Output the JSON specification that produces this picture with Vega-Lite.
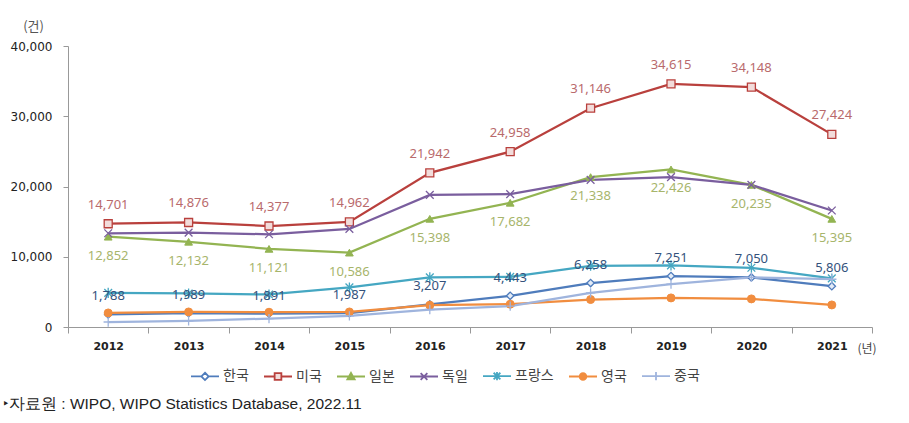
{
  "$schema": "https://vega.github.io/schema/vega-lite/v6.json",
  "width": 804,
  "height": 281,
  "autosize": "none",
  "padding": {"left": 68, "top": 46, "right": 37, "bottom": 96},
  "background": "white",
  "config": {"view": {"stroke": null}},
  "title": {
    "text": "‣자료원 : WIPO, WIPO Statistics Database, 2022.11",
    "orient": "bottom",
    "anchor": "start",
    "frame": "group",
    "dx": -65,
    "offset": 13,
    "font": "Liberation Sans Narrow, Liberation Sans",
    "fontSize": 15.5,
    "fontWeight": "normal",
    "color": "#222"
  },
  "data": {"values": [
    {"year": "2012", "country": "한국", "value": 1788},
    {"year": "2013", "country": "한국", "value": 1989},
    {"year": "2014", "country": "한국", "value": 1891},
    {"year": "2015", "country": "한국", "value": 1987},
    {"year": "2016", "country": "한국", "value": 3207},
    {"year": "2017", "country": "한국", "value": 4443},
    {"year": "2018", "country": "한국", "value": 6258},
    {"year": "2019", "country": "한국", "value": 7251},
    {"year": "2020", "country": "한국", "value": 7050},
    {"year": "2021", "country": "한국", "value": 5806},
    {"year": "2012", "country": "미국", "value": 14701},
    {"year": "2013", "country": "미국", "value": 14876},
    {"year": "2014", "country": "미국", "value": 14377},
    {"year": "2015", "country": "미국", "value": 14962},
    {"year": "2016", "country": "미국", "value": 21942},
    {"year": "2017", "country": "미국", "value": 24958},
    {"year": "2018", "country": "미국", "value": 31146},
    {"year": "2019", "country": "미국", "value": 34615},
    {"year": "2020", "country": "미국", "value": 34148},
    {"year": "2021", "country": "미국", "value": 27424},
    {"year": "2012", "country": "일본", "value": 12852},
    {"year": "2013", "country": "일본", "value": 12132},
    {"year": "2014", "country": "일본", "value": 11121},
    {"year": "2015", "country": "일본", "value": 10586},
    {"year": "2016", "country": "일본", "value": 15398},
    {"year": "2017", "country": "일본", "value": 17682},
    {"year": "2018", "country": "일본", "value": 21338},
    {"year": "2019", "country": "일본", "value": 22426},
    {"year": "2020", "country": "일본", "value": 20235},
    {"year": "2021", "country": "일본", "value": 15395},
    {"year": "2012", "country": "독일", "value": 13340},
    {"year": "2013", "country": "독일", "value": 13430},
    {"year": "2014", "country": "독일", "value": 13200},
    {"year": "2015", "country": "독일", "value": 13960},
    {"year": "2016", "country": "독일", "value": 18810},
    {"year": "2017", "country": "독일", "value": 18910},
    {"year": "2018", "country": "독일", "value": 20950},
    {"year": "2019", "country": "독일", "value": 21330},
    {"year": "2020", "country": "독일", "value": 20240},
    {"year": "2021", "country": "독일", "value": 16580},
    {"year": "2012", "country": "프랑스", "value": 4860},
    {"year": "2013", "country": "프랑스", "value": 4770},
    {"year": "2014", "country": "프랑스", "value": 4630},
    {"year": "2015", "country": "프랑스", "value": 5630},
    {"year": "2016", "country": "프랑스", "value": 7060},
    {"year": "2017", "country": "프랑스", "value": 7140},
    {"year": "2018", "country": "프랑스", "value": 8710},
    {"year": "2019", "country": "프랑스", "value": 8770},
    {"year": "2020", "country": "프랑스", "value": 8430},
    {"year": "2021", "country": "프랑스", "value": 6910},
    {"year": "2012", "country": "영국", "value": 2000},
    {"year": "2013", "country": "영국", "value": 2140},
    {"year": "2014", "country": "영국", "value": 2100},
    {"year": "2015", "country": "영국", "value": 2140},
    {"year": "2016", "country": "영국", "value": 3100},
    {"year": "2017", "country": "영국", "value": 3240},
    {"year": "2018", "country": "영국", "value": 3910},
    {"year": "2019", "country": "영국", "value": 4140},
    {"year": "2020", "country": "영국", "value": 4000},
    {"year": "2021", "country": "영국", "value": 3140},
    {"year": "2012", "country": "중국", "value": 710},
    {"year": "2013", "country": "중국", "value": 860},
    {"year": "2014", "country": "중국", "value": 1200},
    {"year": "2015", "country": "중국", "value": 1570},
    {"year": "2016", "country": "중국", "value": 2490},
    {"year": "2017", "country": "중국", "value": 2960},
    {"year": "2018", "country": "중국", "value": 4860},
    {"year": "2019", "country": "중국", "value": 6100},
    {"year": "2020", "country": "중국", "value": 7060},
    {"year": "2021", "country": "중국", "value": 6800}
  ]},
  "encoding": {
    "x": {
      "field": "year", "type": "ordinal",
      "scale": {"type": "band", "paddingInner": 0, "paddingOuter": 0},
      "axis": {
        "title": "(년)", "titleX": 789, "titleY": 21, "titleAlign": "left", "titleBaseline": "middle",
        "titleFont": "Noto Sans CJK KR", "titleFontSize": 12, "titleFontWeight": "normal", "titleColor": "#444",
        "labelAngle": 0, "labelFont": "DejaVu Sans", "labelFontSize": 11, "labelFontWeight": "bold", "labelColor": "#222",
        "tickBand": "extent", "tickSize": 6, "tickColor": "#999", "domainColor": "#999", "labelPadding": 7,
        "grid": false
      }
    },
    "y": {
      "field": "value", "type": "quantitative",
      "scale": {"domain": [0, 40000], "nice": false},
      "axis": {
        "title": "(건)", "titleAngle": 0, "titleX": -35, "titleY": -20, "titleAlign": "center", "titleBaseline": "middle",
        "titleFont": "Noto Sans CJK KR", "titleFontSize": 13, "titleFontWeight": "normal", "titleColor": "#555",
        "values": [0, 10000, 20000, 30000, 40000], "format": ",d",
        "labelFont": "DejaVu Sans", "labelFontSize": 12, "labelColor": "#222",
        "tickSize": 5, "tickColor": "#999", "domainColor": "#999", "labelPadding": 11, "grid": false
      }
    }
  },
  "layer": [
    {
      "mark": {"type": "line", "strokeWidth": 2.25},
      "encoding": {
        "color": {
          "field": "country", "type": "nominal",
          "scale": {
            "domain": ["한국", "미국", "일본", "독일", "프랑스", "영국", "중국"],
            "range": ["#4f7cbc", "#b9403d", "#93b452", "#7a5e9e", "#45a7c2", "#f18d3f", "#9fb4dd"]
          },
          "legend": {
            "orient": "none", "legendX": 122, "legendY": 315, "direction": "horizontal", "columns": 7,
            "title": null, "symbolSize": 784, "symbolStrokeWidth": 1.8,
            "labelFont": "Noto Sans CJK KR", "labelFontSize": 14, "labelColor": "#444", "labelOffset": 3,
            "columnPadding": 11,
            "encode": {"symbols": {"update": {
              "shape": {"signal": "datum.value === '한국' ? 'M-1,0H-0.26M0.26,0H1M0,-0.26L0.26,0L0,0.26L-0.26,0Z' : datum.value === '미국' ? 'M-1,0H-0.24M0.24,0H1M-0.24,-0.24H0.24V0.24H-0.24Z' : datum.value === '일본' ? 'M-1,0H1M0,-0.26L0.26,0.2H-0.26Z' : datum.value === '독일' ? 'M-1,0H1M-0.24,-0.24L0.24,0.24M-0.24,0.24L0.24,-0.24' : datum.value === '프랑스' ? 'M-1,0H1M-0.24,-0.24L0.24,0.24M-0.24,0.24L0.24,-0.24M0,-0.3V0.3' : datum.value === '영국' ? 'M-1,0H1M0.24,0A0.24,0.24 0 1,1 -0.24,0A0.24,0.24 0 1,1 0.24,0Z' : 'M-1,0H1M0,-0.3V0.3'"},
              "fill": {"signal": "datum.value === '한국' ? '#ffffff' : datum.value === '미국' ? '#f2dcdb' : datum.value === '일본' ? '#93b452' : datum.value === '영국' ? '#f18d3f' : 'transparent'"}
            }}}
          }
        }
      }
    },
    {
      "transform": [{"filter": "datum.country === '한국'"}],
      "mark": {"type": "point", "shape": "diamond", "size": 55, "filled": true, "fill": "#e4ecf7", "stroke": "#4f7cbc", "strokeWidth": 1.3, "opacity": 1}
    },
    {
      "transform": [{"filter": "datum.country === '미국'"}],
      "mark": {"type": "point", "shape": "square", "size": 64, "filled": true, "fill": "#f2dcdb", "stroke": "#b9403d", "strokeWidth": 1.3, "opacity": 1}
    },
    {
      "transform": [{"filter": "datum.country === '일본'"}],
      "mark": {"type": "point", "shape": "triangle-up", "size": 60, "filled": true, "fill": "#93b452", "stroke": "#93b452", "strokeWidth": 1, "opacity": 1}
    },
    {
      "transform": [{"filter": "datum.country === '독일'"}],
      "mark": {"type": "point", "shape": "M-1,-1L1,1M-1,1L1,-1", "size": 60, "filled": false, "stroke": "#7a5e9e", "strokeWidth": 1.3, "opacity": 1}
    },
    {
      "transform": [{"filter": "datum.country === '프랑스'"}],
      "mark": {"type": "point", "shape": "M-1,-1L1,1M-1,1L1,-1M0,-1.3V1.3", "size": 60, "filled": false, "stroke": "#45a7c2", "strokeWidth": 1.3, "opacity": 1}
    },
    {
      "transform": [{"filter": "datum.country === '영국'"}],
      "mark": {"type": "point", "shape": "circle", "size": 64, "filled": true, "fill": "#f18d3f", "stroke": "#f18d3f", "strokeWidth": 1, "opacity": 1}
    },
    {
      "transform": [{"filter": "datum.country === '중국'"}],
      "mark": {"type": "point", "shape": "M-1.2,0H1.2M0,-1.2V1.2", "size": 60, "filled": false, "stroke": "#9fb4dd", "strokeWidth": 1.3, "opacity": 1}
    },
    {
      "transform": [{"filter": "datum.country === '미국'"}],
      "mark": {"type": "text", "dy": -19, "font": "Noto Sans", "fontSize": 13, "color": "#b96a6c"},
      "encoding": {"text": {"field": "value", "type": "quantitative", "format": ","}}
    },
    {
      "transform": [{"filter": "datum.country === '일본'"}],
      "mark": {"type": "text", "dy": 19, "font": "Noto Sans", "fontSize": 13, "color": "#a7b56b"},
      "encoding": {"text": {"field": "value", "type": "quantitative", "format": ","}}
    },
    {
      "transform": [{"filter": "datum.country === '한국'"}],
      "mark": {"type": "text", "dy": -18, "font": "Noto Sans", "fontSize": 13, "color": "#34527c"},
      "encoding": {"text": {"field": "value", "type": "quantitative", "format": ","}}
    }
  ]
}
